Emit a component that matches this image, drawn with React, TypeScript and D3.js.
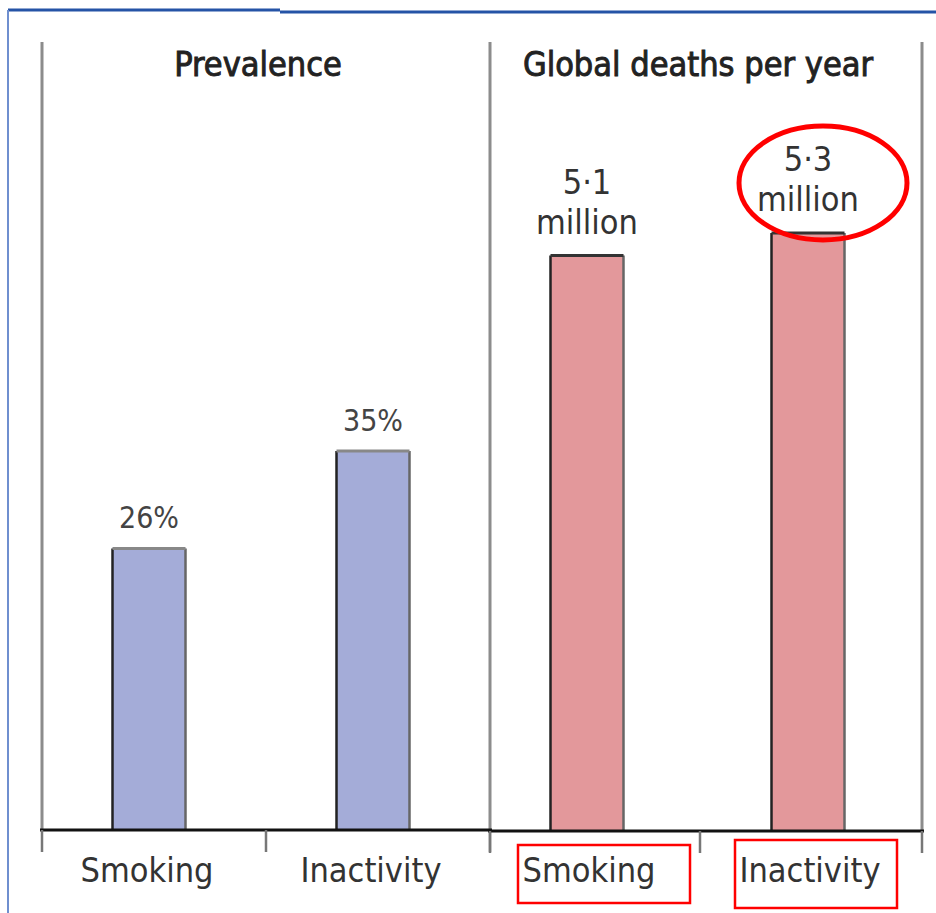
import { useRef, useEffect } from 'react';
import * as d3 from 'd3';

const categories = ['Smoking', 'Inactivity'];
const prevalence = [26, 35];
const prevalenceLabels = ['26%', '35%'];
const deaths = [5.1, 5.3];
const deathLabels = ['5·1', '5·3'];
const titles = ['Prevalence', 'Global deaths per year'];

const W = 936;
const H = 913;
const FONT = '"DejaVu Sans Condensed", "Liberation Sans Narrow", sans-serif';

export default function App() {
  const svgRef = useRef<SVGSVGElement | null>(null);

  useEffect(() => {
    const svg = d3.select(svgRef.current);
    svg.selectAll('*').remove();

    // frame lines (blue, top + left)
    svg.append('line').attr('x1', 8).attr('x2', 280).attr('y1', 10).attr('y2', 10)
      .attr('stroke', '#2553a6').attr('stroke-width', 3);
    svg.append('line').attr('x1', 280).attr('x2', W).attr('y1', 12).attr('y2', 12)
      .attr('stroke', '#2553a6').attr('stroke-width', 3);
    svg.append('line').attr('x1', 8).attr('x2', 8).attr('y1', 10).attr('y2', H)
      .attr('stroke', '#6f8fcf').attr('stroke-width', 2);

    const panels = [
      { x0: 42, x1: 490, base: 830, top: 451, max: 35, values: prevalence, labels: prevalenceLabels, fill: '#a4acd8', title: titles[0], two: false, shift: -5, tick: 0 },
      { x0: 490, x1: 922, base: 831, top: 233, max: 5.3, values: deaths, labels: deathLabels, fill: '#e3989b', title: titles[1], two: true, shift: -11, tick: -6 },
    ];

    // vertical separators
    [42, 490, 922].forEach((x) => {
      svg.append('line').attr('x1', x).attr('x2', x).attr('y1', 42).attr('y2', 830)
        .attr('stroke', '#8c8c8c').attr('stroke-width', 3);
    });

    panels.forEach((p, pi) => {
      const x = d3.scaleBand<string>().domain(categories).range([p.x0, p.x1]);
      const y = d3.scaleLinear().domain([0, p.max]).range([p.base, p.top]);
      const bw = 73;
      const g = svg.append('g');

      g.append('text')
        .attr('x', (p.x0 + p.x1) / 2 + (pi === 0 ? -8 : -8))
        .attr('y', 76)
        .attr('text-anchor', 'middle')
        .attr('font-family', FONT)
        .attr('font-size', 34)
        .attr('fill', '#222')
        .attr('stroke', '#222')
        .attr('stroke-width', 0.9)
        .text(p.title);

      categories.forEach((c, i) => {
        const cx = (x(c) as number) + x.bandwidth() / 2 + p.shift + (pi === 1 && i === 1 ? 5 : 0);
        const yt = y(p.values[i]);
        g.append('rect')
          .attr('x', cx - bw / 2).attr('y', yt)
          .attr('width', bw).attr('height', p.base - yt)
          .attr('fill', p.fill);
        // left/top dark, right grey edges
        g.append('line').attr('x1', cx - bw / 2).attr('x2', cx - bw / 2).attr('y1', yt).attr('y2', p.base)
          .attr('stroke', '#222').attr('stroke-width', 2.5);
        g.append('line').attr('x1', cx + bw / 2).attr('x2', cx + bw / 2).attr('y1', yt).attr('y2', p.base)
          .attr('stroke', '#666').attr('stroke-width', 2.5);
        g.append('line').attr('x1', cx - bw / 2).attr('x2', cx + bw / 2).attr('y1', yt).attr('y2', yt)
          .attr('stroke', pi === 0 ? '#888' : '#333').attr('stroke-width', 3);

        if (p.two) {
          g.append('text').attr('x', cx).attr('y', yt - 62)
            .attr('text-anchor', 'middle').attr('font-family', FONT).attr('font-size', 34)
            .attr('fill', '#333').text(p.labels[i]);
          g.append('text').attr('x', cx).attr('y', yt - 22)
            .attr('text-anchor', 'middle').attr('font-family', FONT).attr('font-size', 34)
            .attr('fill', '#333').text('million');
        } else {
          g.append('text').attr('x', cx).attr('y', yt - 20)
            .attr('text-anchor', 'middle').attr('font-family', FONT).attr('font-size', 30)
            .attr('fill', '#444').text(p.labels[i]);
        }

        g.append('text').attr('x', cx + (pi === 0 ? -2 : 2)).attr('y', 882)
          .attr('text-anchor', 'middle').attr('font-family', FONT).attr('font-size', 34)
          .attr('fill', '#333').text(c);
      });

      // baseline
      g.append('line').attr('x1', p.x0 - 2).attr('x2', p.x1 + 2).attr('y1', p.base).attr('y2', p.base)
        .attr('stroke', '#111').attr('stroke-width', 3);
      // ticks below baseline
      [p.x0, (x('Inactivity') as number) + p.tick, p.x1].forEach((tx) => {
        g.append('line').attr('x1', tx).attr('x2', tx).attr('y1', p.base).attr('y2', p.base + 22)
          .attr('stroke', '#777').attr('stroke-width', 2.5);
      });
    });

    // red annotation: ellipse and boxes
    svg.append('ellipse').attr('cx', 823).attr('cy', 183).attr('rx', 84).attr('ry', 57)
      .attr('fill', 'none').attr('stroke', '#ff0000').attr('stroke-width', 5);
    svg.append('rect').attr('x', 518).attr('y', 845).attr('width', 172).attr('height', 58)
      .attr('fill', 'none').attr('stroke', '#ff0000').attr('stroke-width', 2.5);
    svg.append('rect').attr('x', 735).attr('y', 840).attr('width', 162).attr('height', 68)
      .attr('fill', 'none').attr('stroke', '#ff0000').attr('stroke-width', 2.5);
  }, []);

  return (
    <svg ref={svgRef} width={W} height={H}
      style={{ position: 'absolute', left: 0, top: 0, background: '#fff' }} />
  );
}
